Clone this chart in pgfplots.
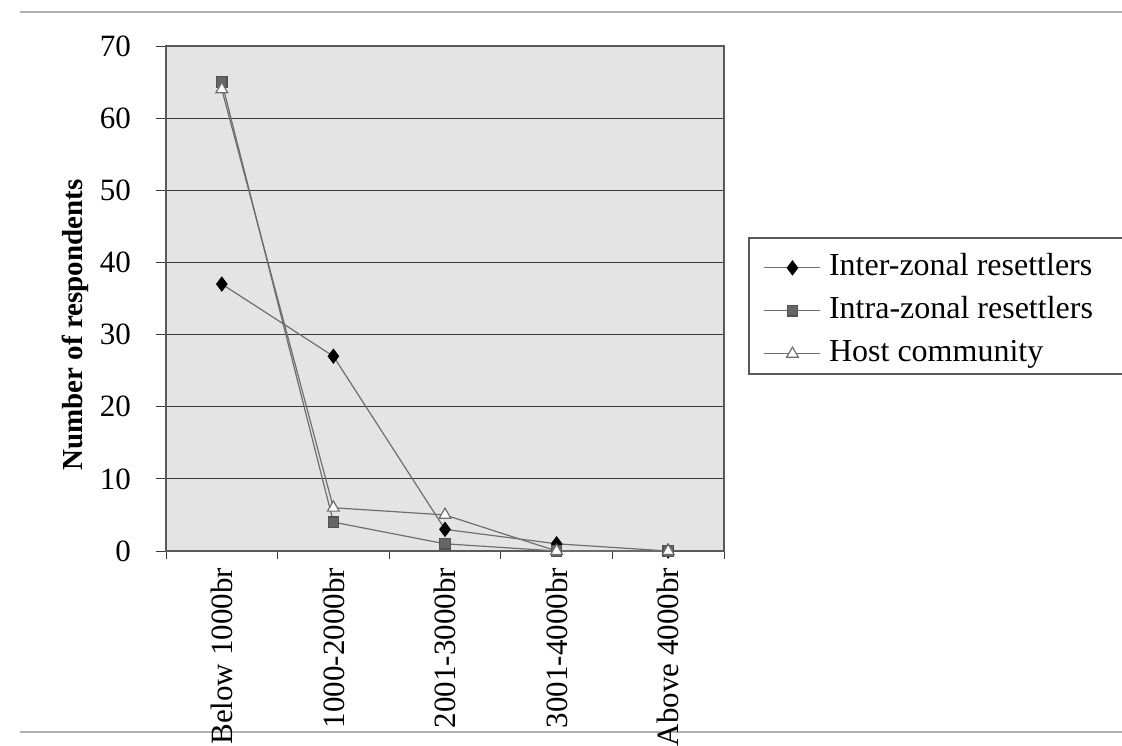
\documentclass[border=0pt]{standalone}
\usepackage{pgfplots}
\pgfplotsset{compat=1.18}
\usepackage{fontspec}
\setmainfont{Liberation Serif}
\definecolor{bg}{HTML}{E4E4E4}
\definecolor{ln}{HTML}{6E6E6E}
\definecolor{sq}{HTML}{666666}
\definecolor{gridc}{HTML}{3A3A3A}
\pgfplotstableread{
x inter intra host
0 37 65 64
1 27 4 6
2 3 1 5
3 1 0 0
4 0 0 0
}\datatable
\begin{document}
\begin{tikzpicture}
\useasboundingbox (0,0) rectangle (561pt,372.5pt);
\draw[gray!60, line width=0.7pt] (10pt,366.5pt) -- (561pt,366.5pt);
\draw[gray!60, line width=0.7pt] (10pt,6.5pt) -- (561pt,6.5pt);
\begin{axis}[
 at={(83pt,97pt)}, anchor=south west,
 scale only axis, width=279pt, height=252.5pt,
 xmin=-0.5, xmax=4.5, ymin=0, ymax=70,
 ytick={0,10,...,70},
 xtick={0,...,4},
 xticklabels={Below 1000br,1000-2000br,2001-3000br,3001-4000br,Above 4000br},
 minor xtick={-0.5,0.5,...,4.5},
 major x tick style={draw=none},
 minor tick length=4pt, major tick length=5pt,
 tick align=outside, tick pos=left,
 tick style={gridc, line width=0.5pt},
 ymajorgrids, major grid style={gridc, line width=0.6pt},
 axis background/.style={fill=bg},
 axis line style={gray!70!black, line width=0.6pt},
 /pgf/number format/assume math mode=true,
 ticklabel style={font=\fontsize{15.5}{18}\selectfont},
 yticklabel style={anchor=east, xshift=-9pt},
 xticklabel style={rotate=90, anchor=east, xshift=0pt},
 ylabel={\textbf{Number of respondents}},
 ylabel style={font=\fontsize{14.5}{17}\selectfont, at={(axis description cs:-0.163,0.4475)}, anchor=center},
 legend style={draw=none, fill=none, at={(axis description cs:1.06,0.605)}, anchor=north west,
   font=\fontsize{16}{19}\selectfont, row sep=3.5pt,
   nodes={text height=12pt, text depth=4pt, inner sep=1pt},
   /tikz/every odd column/.append style={column sep=3pt}},
 legend cell align=left,
 legend image code/.code={\draw[#1, mark repeat=2, mark phase=2] plot coordinates {(0pt,0pt) (14pt,0pt) (28pt,0pt)};},
 clip=false,
]
\addplot[ln, line width=0.6pt, mark=diamond*, mark size=3.4pt, mark options={fill=black, draw=black, solid}] table[x=x, y=inter] {\datatable};
\addlegendentry{Inter-zonal resettlers}
\addplot[ln, line width=0.6pt, mark=square*, mark size=2.6pt, mark options={fill=sq, draw=sq!80!black, solid}] table[x=x, y=intra] {\datatable};
\addlegendentry{Intra-zonal resettlers}
\addplot[ln, line width=0.6pt, mark=triangle*, mark size=3.4pt, mark options={fill=white, draw=ln, solid}] table[x=x, y=host] {\datatable};
\addlegendentry{Host community}
\end{axis}
\draw[gray!70!black, line width=0.6pt] (374.5pt,253.5pt) rectangle (575pt,185.5pt);
\end{tikzpicture}
\end{document}
